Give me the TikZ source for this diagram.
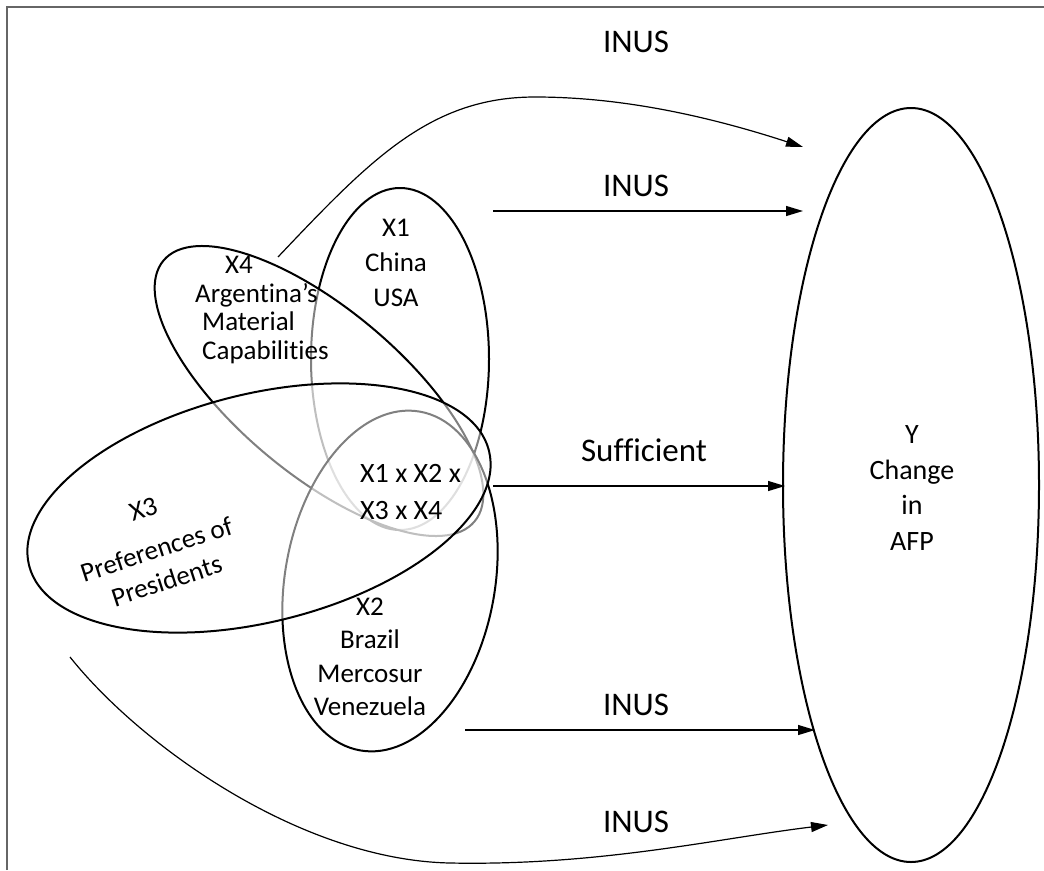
\documentclass[tikz,border=0pt]{standalone}
\usepackage{fontspec}
\setmainfont{Carlito}[Ligatures=NoCommon]
\usetikzlibrary{shapes.geometric,arrows.meta}
\begin{document}
\begin{tikzpicture}[x=1pt,y=-1pt,
  venn/.style={draw=black, line width=2pt, ellipse, inner sep=0pt, outer sep=0pt, fill=white, fill opacity=0.5},
  body/.style={font=\fontsize{27}{35}\selectfont, inner sep=0pt, align=center, text=black},
  lab/.style={font=\fontsize{33}{38}\selectfont, inner sep=0pt, text=black},
  arr/.style={line width=1.2pt, -{Triangle[length=17pt,width=10pt]}}]
\useasboundingbox (0,0) rectangle (1044,870);
% frame
\draw[line width=2pt, draw=black!60] (7,870) -- (7,7) -- (1044,7);
% ellipses
\node[venn, minimum width=178pt, minimum height=342pt] (X1) at (400,359) {};
\node[venn, minimum width=406pt, minimum height=165pt, rotate=-40] (X4) at (319,391) {};
\node[venn, minimum width=210pt, minimum height=344pt, rotate=-10] (X2) at (390,581) {};
\node[venn, minimum width=474pt, minimum height=228pt, rotate=14] (X3) at (259,508) {};
\node[venn, fill opacity=0, minimum width=256pt, minimum height=754pt] (Y) at (911,485) {};
% texts
\node[body] (t1) at (396,263) {X1\\China\\USA};
\node[body, align=left, anchor=west, font=\fontsize{27}{28.5}\selectfont] (t4) at (195,310) {\hspace*{30pt}X4\\Argentina’s\\\hspace*{7pt}Material\\\hspace*{7pt}Capabilities};
\node[body, rotate=18, font=\fontsize{27}{33}\selectfont] (t3) at (155,545) {X3\\[10pt]Preferences of\\Presidents};
\node[body, font=\fontsize{27}{33.5}\selectfont] (t2) at (370,657) {X2\\Brazil\\Mercosur\\Venezuela};
\node[body, align=left, anchor=west, font=\fontsize{28}{37}\selectfont] (tc) at (360,492) {X1 x X2 x\\X3 x X4};
\node[body, font=\fontsize{28}{35.5}\selectfont] (ty) at (912,488) {Y\\Change\\in\\AFP};
% labels
\node[lab] (l1) at (636,42) {INUS};
\node[lab] (l2) at (636,186) {INUS};
\node[lab] (l3) at (644,450) {Sufficient};
\node[lab] (l4) at (636,705) {INUS};
\node[lab] (l5) at (636,822) {INUS};
% connector ends
\coordinate (a1s) at (278,257); \coordinate (a1e) at (803,147);
\coordinate (a2s) at (493,211); \coordinate (a2e) at (803,211);
\coordinate (a3s) at (493,486); \coordinate (a3e) at (785,486);
\coordinate (a4s) at (465,730); \coordinate (a4e) at (815,730);
\coordinate (a5s) at (70,657);  \coordinate (a5e) at (828,825);
\draw[arr] (a1s) .. controls (370,160) and (430,97) .. (535,97) .. controls (630,97) and (720,120) .. (a1e);
\draw[arr] (a2s) -- (a2e);
\draw[arr] (a3s) -- (a3e);
\draw[arr] (a4s) -- (a4e);
\draw[arr] (a5s) .. controls (140,745) and (300,860) .. (450,863) .. controls (600,866) and (720,838) .. (a5e);
\end{tikzpicture}
\end{document}
